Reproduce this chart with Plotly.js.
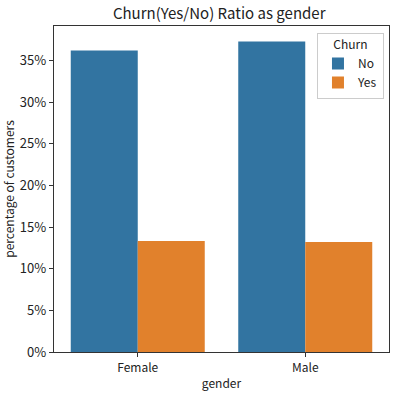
<!DOCTYPE html>
<html>
<head>
<meta charset="utf-8">
<script src="https://cdn.plot.ly/plotly-3.0.1.min.js"></script>
<style>html,body{margin:0;padding:0;background:#fff;}#chart{width:395px;height:394px;}</style>
</head>
<body>
<div id="chart"></div>
<script>
const categories = ["Female", "Male"];
const seriesNames = ["No", "Yes"];
const noValues = [36.19, 37.27];
const yesValues = [13.33, 13.20];
const yTicks = [0, 5, 10, 15, 20, 25, 30, 35];

const font = "'Noto Sans CJK KR', 'Open Sans', 'DejaVu Sans', sans-serif";
const data = [
  {type: "bar", name: seriesNames[0], x: categories, y: noValues, marker: {color: "#3274a1"}, hoverinfo: "skip"},
  {type: "bar", name: seriesNames[1], x: categories, y: yesValues, marker: {color: "#e1812c"}, hoverinfo: "skip"}
];
const layout = {
  width: 395, height: 394,
  margin: {l: 54, r: 6, t: 26, b: 42},
  paper_bgcolor: "#fff", plot_bgcolor: "#fff",
  font: {family: font, color: "#222", size: 12},
  barmode: "group", bargap: 0.2, bargroupgap: 0,
  title: {text: "Churn(Yes/No) Ratio as gender", x: 0.555, xanchor: "center", y: 0.965, yanchor: "middle", font: {size: 15, family: font, color: "#222"}},
  xaxis: {
    range: [-0.5, 1.5], showline: true, mirror: true, linecolor: "#333", linewidth: 1.2,
    ticks: "outside", ticklen: 4, tickcolor: "#333", showgrid: false, zeroline: false,
    tickfont: {size: 12, family: font, color: "#222"},
    title: {text: "gender", font: {size: 12, family: font, color: "#222"}, standoff: 6}
  },
  yaxis: {
    range: [0, 39.13], showline: true, mirror: true, linecolor: "#333", linewidth: 1.2,
    ticks: "outside", ticklen: 4, tickcolor: "#333", showgrid: false, zeroline: false,
    tickvals: yTicks, ticktext: yTicks.map(v => v + "%"),
    tickfont: {size: 13, family: font, color: "#222"},
    title: {text: "percentage of customers", font: {size: 12, family: font, color: "#222"}, standoff: 6}
  },
  legend: {
    x: 0.985, xanchor: "right", y: 0.98, yanchor: "top",
    bgcolor: "rgba(255,255,255,0.8)", bordercolor: "#ccc", borderwidth: 1,
    font: {size: 12, family: font, color: "#222"},
    title: {text: "Churn", side: "top center", font: {size: 12, family: font, color: "#222"}},
    itemwidth: 30, traceorder: "normal"
  },
  showlegend: true
};
Plotly.newPlot("chart", data, layout, {staticPlot: true, displayModeBar: false});
</script>
</body>
</html>
